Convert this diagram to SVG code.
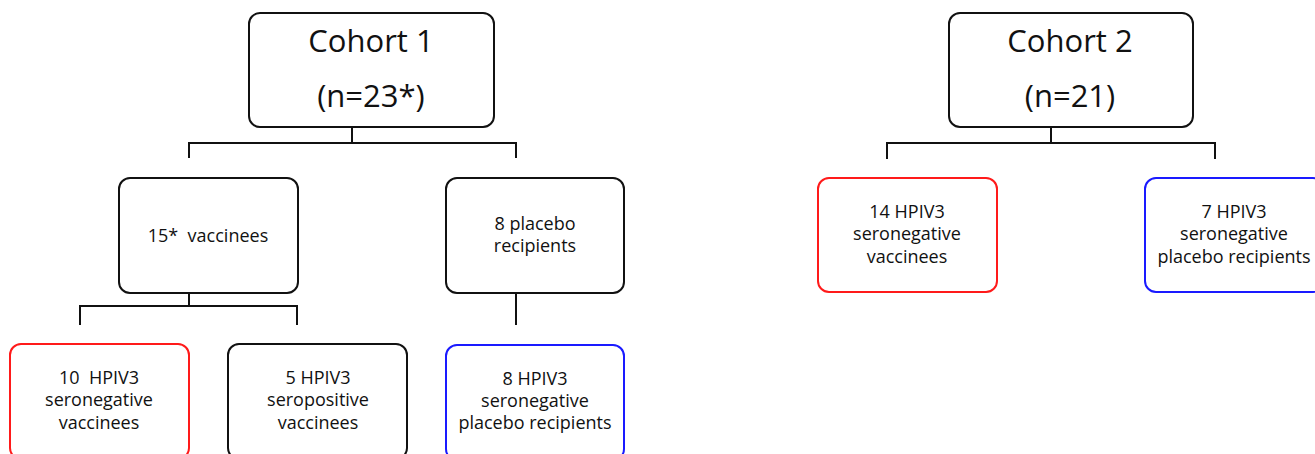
<svg xmlns="http://www.w3.org/2000/svg" width="1315" height="454" viewBox="0 0 1315 454">
<style>
.box{fill:#fff;stroke-width:2}
.k{stroke:#111}
.r{stroke:#ff1a1a}
.b{stroke:#1a1aff}
.t{font-family:"Open Sans","Liberation Sans",sans-serif;fill:#111;text-anchor:middle;white-space:pre}
.big{font-size:31px}
.sm{font-size:18px}
.ln{fill:none;stroke:#111;stroke-width:2}
.dot{fill:none;stroke:#bbb;stroke-width:1;stroke-dasharray:1 1.5}
</style>
<rect width="1315" height="454" fill="#fff"/>
<g id="connectors">
<path class="ln" d="M352 127V143M189 158V143H516V158"/>
<path class="ln" d="M189 293V306M80 325V306H297V325"/>
<path class="ln" d="M516 293V325"/>
<path class="ln" d="M1051 127V143M887 159V143H1215V159"/>
<path class="dot" d="M352 108V127M189 276V293M516 276V293M1051 108V127"/>
</g>
<g id="cohort1">
<rect class="box k" x="249" y="13" width="245" height="114" rx="11"/>
<text class="t big" x="371" y="52">Cohort 1</text>
<text class="t big" x="371" y="107">(n=23*)</text>
</g>
<g id="vaccinees">
<rect class="box k" x="119" y="178" width="179" height="115" rx="11"/>
<text class="t sm" x="208" y="242">15*  vaccinees</text>
</g>
<g id="placebo">
<rect class="box k" x="446" y="178" width="178" height="115" rx="11"/>
<text class="t sm" x="535" y="230">8 placebo</text>
<text class="t sm" x="535" y="252">recipients</text>
</g>
<g id="seroneg-vacc-1">
<rect class="box r" x="10" y="344" width="179" height="115" rx="11"/>
<text class="t sm" x="99" y="384">10  HPIV3</text>
<text class="t sm" x="99" y="406">seronegative</text>
<text class="t sm" x="99" y="429">vaccinees</text>
</g>
<g id="seropos-vacc-1">
<rect class="box k" x="228" y="344" width="179" height="115" rx="11"/>
<text class="t sm" x="318" y="384">5 HPIV3</text>
<text class="t sm" x="318" y="406">seropositive</text>
<text class="t sm" x="318" y="429">vaccinees</text>
</g>
<g id="seroneg-placebo-1">
<rect class="box b" x="446" y="345" width="178" height="115" rx="11"/>
<text class="t sm" x="535" y="385">8 HPIV3</text>
<text class="t sm" x="535" y="407">seronegative</text>
<text class="t sm" x="535" y="429">placebo recipients</text>
</g>
<g id="cohort2">
<rect class="box k" x="949" y="13" width="244" height="114" rx="11"/>
<text class="t big" x="1070" y="52">Cohort 2</text>
<text class="t big" x="1070" y="107">(n=21)</text>
</g>
<g id="seroneg-vacc-2">
<rect class="box r" x="818" y="178" width="179" height="114" rx="11"/>
<text class="t sm" x="907" y="218">14 HPIV3</text>
<text class="t sm" x="907" y="240">seronegative</text>
<text class="t sm" x="907" y="263">vaccinees</text>
</g>
<g id="seroneg-placebo-2">
<rect class="box b" x="1145" y="178" width="179" height="114" rx="11"/>
<text class="t sm" x="1234" y="218">7 HPIV3</text>
<text class="t sm" x="1234" y="240">seronegative</text>
<text class="t sm" x="1234" y="263">placebo recipients</text>
</g>
</svg>
